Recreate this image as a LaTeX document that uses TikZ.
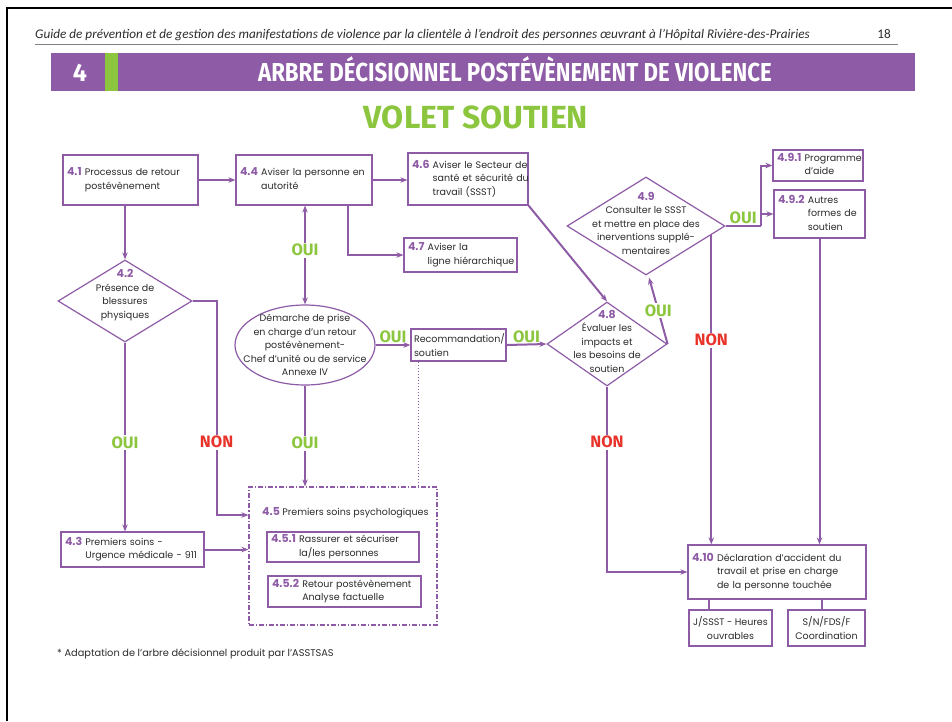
\documentclass[tikz,border=0pt]{standalone}
\usepackage{fontspec}
\usepackage{graphicx}
\setmainfont{Poppins}
\newfontfamily\hdrfont{Carlito}
\newfontfamily\capfont{Fira Sans}
\usetikzlibrary{shapes.geometric, arrows.meta, positioning, calc}

\definecolor{vio}{HTML}{8E5BA6}
\definecolor{leaf}{HTML}{8CC63E}
\definecolor{nonred}{HTML}{E8332A}
\definecolor{ink}{HTML}{2B2B2B}

\newcommand{\diagfont}{\fontsize{9.5}{13.5}\selectfont}
\newcommand{\nr}[1]{\textcolor{vio}{\bfseries\fontsize{11}{13.5}\selectfont #1}}
\newcommand{\hang}[2]{\begin{tabular}{@{}l@{\ }l@{}}\nr{#1} & #2\end{tabular}}

\tikzset{
  box/.style={draw=vio, line width=1.2pt, fill=white, inner xsep=4pt, inner ysep=0pt, align=left, font=\diagfont, text=ink},
  cbox/.style={box, align=center, inner xsep=1pt},
  dmd/.style={diamond, draw=vio, line width=1.2pt, fill=white, inner sep=0pt},
  dtxt/.style={align=center, font=\diagfont, text=ink, inner sep=0pt},
  link/.style={vio, line width=2pt},
  arr/.style={link, -{Stealth[length=7pt, width=5.5pt]}},
  arr2/.style={link, {Stealth[length=7pt, width=5.5pt]}-{Stealth[length=7pt, width=5.5pt]}},
  dotline/.style={vio, line width=1pt, dotted},
  oui/.style={font=\capfont\bfseries\fontsize{16.5}{16.5}\selectfont, text=leaf, fill=white, inner sep=1.5pt},
  non/.style={oui, text=nonred},
  tag/.style={font=\capfont\bfseries\fontsize{16.5}{16.5}\selectfont, text=leaf, inner sep=1pt, above}
}

\begin{document}
\begin{tikzpicture}[x=1pt, y=-1pt]
\useasboundingbox (0,0) rectangle (952,721);
\draw[black, line width=2.5pt] (7,721) -- (7,8) -- (952,8);

\node[anchor=base west, text=ink, inner sep=0pt, font=\hdrfont\itshape\fontsize{13.2}{14}\selectfont] (hdr) at (35,38) {Guide de prévention et de gestion des manifestations de violence par la clientèle à l’endroit des personnes œuvrant à l’Hôpital Rivière-des-Prairies};
\node[anchor=base east, text=ink, inner sep=0pt, font=\hdrfont\fontsize{13.2}{14}\selectfont] (pg) at (891,38) {18};
\draw[gray, line width=1pt] (35,44) -- (898,44);

\fill[vio] (51,53) rectangle (915,91);
\fill[leaf] (105,53) rectangle (118,91);
\node[anchor=base, text=white, inner sep=0pt, font=\capfont\bfseries\fontsize{25}{25}\selectfont] (num) at (80,81) {4};
\node[anchor=base, text=white, inner sep=0pt, font=\capfont\bfseries\fontsize{26}{26}\selectfont] (ttl) at (515,81) {\scalebox{0.855}[1]{ARBRE DÉCISIONNEL POSTÉVÈNEMENT DE VIOLENCE}};
\node[anchor=base, text=leaf, inner sep=0pt, font=\capfont\bfseries\fontsize{32}{32}\selectfont] (vol) at (476,128) {VOLET SOUTIEN};

\node[box, text width=127pt, minimum height=50pt] (b41) at (130.5,180) {\hang{4.1}{Processus de retour\\ & postévènement}};
\node[box, text width=128pt, minimum height=50pt] (b44) at (304,180) {\hang{4.4}{Aviser la personne en\\ & autorité}};
\node[box, text width=112pt, minimum height=52pt] (b46) at (468,179) {\hang{4.6}{Aviser le Secteur de\\ & santé et sécurité du\\ & travail (SSST)}};
\node[box, text width=105pt, minimum height=34pt] (b47) at (460.5,255) {\hang{4.7}{Aviser la\\ & ligne hiérarchique}};
\node[box, text width=82pt, minimum height=31pt] (b491) at (818,165.5) {\hang{4.9.1}{Programme\\ & d’aide}};
\node[box, text width=83pt, minimum height=48pt] (b492) at (819.5,214) {\hang{4.9.2}{Autres\\ & formes de\\ & soutien}};
\node[box, inner xsep=3pt, text width=89pt, minimum height=32pt] (rec) at (458.5,345) {Recommandation/\\soutien};
\node[box, text width=135pt, minimum height=35pt] (b43) at (132.5,549.5) {\hang{4.3}{Premiers soins -\\ & Urgence médicale - 911}};
\node[draw=vio, line width=1.2pt, dash pattern=on 5pt off 2pt on 1.2pt off 2pt, minimum width=188pt, minimum height=138pt] (b45) at (343,556) {};
\node[anchor=west, font=\diagfont, text=ink, inner sep=0pt] (b45t) at (262,513) {\nr{4.5} Premiers soins psychologiques};
\node[box, text width=144pt, minimum height=30pt] (b451) at (343,547) {\hang{4.5.1}{Rassurer et sécuriser\\ & la/les personnes}};
\node[box, text width=145pt, minimum height=31pt] (b452) at (344.5,591.5) {\hang{4.5.2}{Retour postévènement\\ & Analyse factuelle}};
\node[box, text width=170pt, minimum height=54pt] (b410) at (777,572) {\hang{4.10}{Déclaration d’accident du\\ & travail et prise en charge\\ & de la personne touchée}};
\node[cbox, minimum width=83pt, minimum height=36pt] (bj) at (730.5,628) {J/SSST - Heures\\ouvrables};
\node[cbox, minimum width=77pt, minimum height=36pt] (bs) at (826.5,628) {S/N/FDS/F\\Coordination};

\node[dmd, minimum width=134pt, minimum height=82pt] (d42) at (125,301) {};
\node[dtxt] (d42t) at (125,295) {\nr{4.2}\\Présence de\\blessures\\physiques};
\node[dmd, minimum width=158pt, minimum height=98pt] (d49) at (646,226) {};
\node[dtxt] (d49t) at (646,223) {\nr{4.9}\\Consulter le SSST\\et mettre en place des\\inerventions supplé-\\mentaires};
\node[dmd, minimum width=120pt, minimum height=84pt] (d48) at (607,344) {};
\node[dtxt] (d48t) at (607,341) {\nr{4.8}\\Évaluer les\\impacts et\\les besoins de\\soutien};
\node[ellipse, draw=vio, line width=1.2pt, fill=white, minimum width=140pt, minimum height=80pt, inner sep=0pt] (el) at (305,345) {};
\node[dtxt] (elt) at (305,345) {Démarche de prise\\en charge d’un retour\\postévènement-\\Chef d’unité ou de service\\Annexe IV};

\draw[arr] (b41.east) -- (b41.east -| b44.west);
\draw[arr] (d42.north |- b41.south) -- (d42.north);
\draw[arr] (b44.east) -- (b44.east -| b46.west);
\draw[arr] ([xshift=44pt]b44.south) |- (b47.west);
\draw[arr2] (el.north |- b44.south) -- (el.north) node[oui, pos=0.45] (y1) {OUI};
\draw[arr] (el.east) -- (rec.west) node[tag, midway] (y2) {OUI};
\draw[arr] (rec.east) -- (d48.west) node[tag, midway] (y3) {OUI};
\draw[dotline] ([xshift=8pt]rec.south west) -- ([xshift=8pt]rec.south west |- b45.north);
\draw[arr] (el.south) -- (el.south |- b45.north) node[oui, pos=0.57] (y4) {OUI};
\draw[arr] (d42.south) -- (d42.south |- b43.north) node[oui, pos=0.53] (y5) {OUI};
\draw[arr] (d42.east) -- ++(24,0) |- ([yshift=41pt]b45.west) node[non, pos=0.33] (n1) {NON};
\draw[arr] (b43.east) -- (b43.east -| b45.west);
\draw[arr] (b46.south east) -- (d48.north);
\draw[arr] (d48.east) -- ([xshift=3pt, yshift=-2pt]d49.south) node[oui, midway] (y6) {OUI};
\draw[arr] (d48.south) |- (b410.west) node[non, pos=0.15] (n2) {NON};
\coordinate (d49ft) at ($(d49.east)!0.18!(d49.south)$);
\draw[arr] (d49ft) -- (d49ft |- b410.north) node[non, pos=0.34] (n3) {NON};
\draw[link] (d49.east) -- ++(35,0) node[tag, midway] (y7) {OUI} coordinate (fork);
\draw[arr] (fork) |- (b491.west);
\draw[arr] (fork |- b492.west) -- (b492.west);
\draw[arr] (b492.south) -- (b492.south |- b410.north);
\draw[link] ([xshift=22pt]b410.south west) -- ([xshift=22pt]b410.south west |- bj.north);
\draw[link] ([xshift=-45pt]b410.south east) -- ([xshift=-45pt]b410.south east |- bs.north);

\node[anchor=base west, text=ink, inner sep=0pt, font=\fontsize{9.8}{11}\selectfont] (note) at (57,656) {* Adaptation de l’arbre décisionnel produit par l’ASSTSAS};
\end{tikzpicture}
\end{document}
